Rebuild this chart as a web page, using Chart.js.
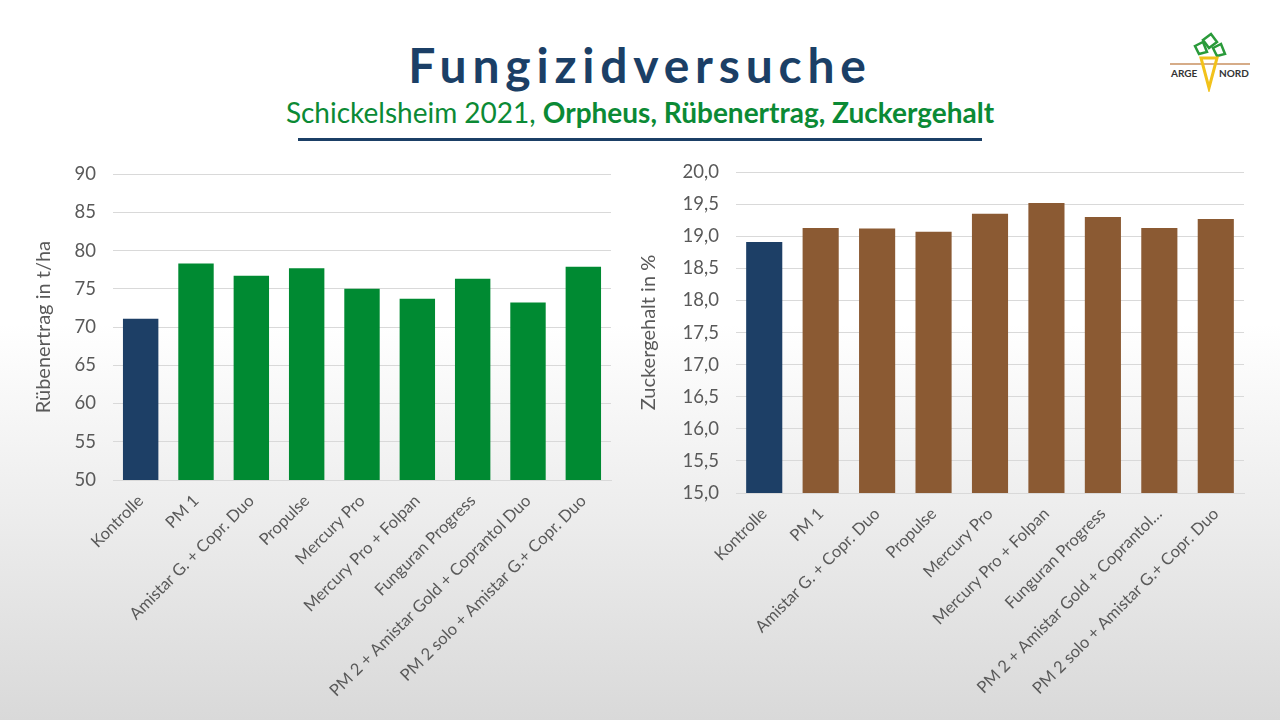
<!DOCTYPE html>
<html>
<head>
<meta charset="utf-8">
<script src="https://cdn.jsdelivr.net/npm/chart.js@4.4.1/dist/chart.umd.min.js"></script>
<style>
  html, body { margin: 0; padding: 0; }
  body {
    width: 1280px; height: 720px; overflow: hidden; position: relative;
    background: linear-gradient(to bottom, #ffffff 0%, #ffffff 45%, #d9d9d9 100%);
    font-family: Lato, "Open Sans", sans-serif;
  }
  #title {
    position: absolute; top: 36px; left: 0; width: 1280px; text-align: center;
    font-size: 48px; font-weight: bold; color: #1b3f66; letter-spacing: 5.8px;
  }
  #subtitle {
    position: absolute; top: 95px; left: 0; width: 1280px; text-align: center;
    font-size: 28px; color: #0b8a35;
  }
  #rule { position: absolute; top: 138px; left: 298px; width: 684px; height: 3px; background: #1b3f66; }
  #logo { position: absolute; left: 1165px; top: 30px; }
  .box { position: absolute; }
</style>
</head>
<body>
<div id="title">Fungizidversuche</div>
<div id="subtitle">Schickelsheim 2021, <b>Orpheus, Rübenertrag, Zuckergehalt</b></div>
<div id="rule"></div>
<svg id="logo" width="90" height="62" viewBox="0 0 90 62">
  <polygon points="38,10 46,4 52,12 44,18" fill="none" stroke="#2a9a3a" stroke-width="2.5"/>
  <polygon points="30,16 38,12 42,22 34,24" fill="none" stroke="#2a9a3a" stroke-width="2.5"/>
  <polygon points="48,18 56,14 60,24 52,26" fill="none" stroke="#2a9a3a" stroke-width="2.5"/>
  <line x1="5" y1="34" x2="85" y2="34" stroke="#c89060" stroke-width="1.5"/>
  <polygon points="36,28 52,28 44,58" fill="none" stroke="#f2c21b" stroke-width="3"/>
  <text x="6" y="47" font-size="10" font-weight="bold" fill="#333" font-family="Lato, sans-serif">ARGE</text>
  <text x="54" y="47" font-size="10" font-weight="bold" fill="#333" font-family="Lato, sans-serif">NORD</text>
</svg>
<div class="box" style="left:28px; top:146px; width:592px; height:559px;"><canvas id="left"></canvas></div>
<div class="box" style="left:633px; top:144px; width:622px; height:561px;"><canvas id="right"></canvas></div>
<script>
const categories = ['Kontrolle', 'PM 1', 'Amistar G. + Copr. Duo', 'Propulse', 'Mercury Pro',
  'Mercury Pro + Folpan', 'Funguran Progress', 'PM 2 + Amistar Gold + Coprantol Duo', 'PM 2 solo + Amistar G.+ Copr. Duo'];
const ruebenertrag = [71.1, 78.3, 76.7, 77.7, 75.0, 73.7, 76.3, 73.2, 77.9];
const zuckergehalt = [18.91, 19.13, 19.12, 19.07, 19.35, 19.52, 19.30, 19.13, 19.27];
const controlColor = '#1d3f66';
const greenColor = '#008a32';
const brownColor = '#8b5a33';

const fontFamily = 'Lato, "Open Sans", sans-serif';
const gray = '#595959';

function makeChart(id, data, color, min, max, step, axisTitle, decimals, cfg) {
  return new Chart(document.getElementById(id), {
    type: 'bar',
    data: {
      labels: categories,
      datasets: [{
        data: data,
        backgroundColor: data.map((v, i) => i === 0 ? controlColor : color),
        barPercentage: 0.64,
        categoryPercentage: 1.0
      }]
    },
    options: {
      responsive: true,
      maintainAspectRatio: false,
      animation: false,
      layout: { padding: { top: 0, right: cfg.right, left: 0, bottom: 0 } },
      plugins: { legend: { display: false }, tooltip: { enabled: false } },
      scales: {
        x: {
          grid: { display: false },
          border: { color: '#d9d9d9' },
          afterFit: s => { s.height = cfg.xHeight; },
          ticks: {
            color: gray, font: { family: fontFamily, size: 16.5 },
            minRotation: 45, maxRotation: 45, autoSkip: false,
            callback: function (v) {
              const s = this.getLabelForValue(v);
              return (cfg.truncate && s.length > 34) ? s.slice(0, 31) + '…' : s;
            }
          }
        },
        y: {
          min: min, max: max,
          afterFit: s => { s.width = cfg.yWidth; },
          grid: { color: '#d9d9d9', drawTicks: false },
          border: { display: false },
          ticks: {
            stepSize: step, color: gray, font: { family: fontFamily, size: 18.5 }, padding: 17,
            callback: v => v.toFixed(decimals).replace('.', ',')
          },
          title: { display: true, text: axisTitle, color: gray, font: { family: fontFamily, size: 20 } }
        }
      }
    }
  });
}

makeChart('left', ruebenertrag, greenColor, 50, 90, 5, 'Rübenertrag in t/ha', 0,
  { right: 9, xHeight: 225, yWidth: 85, truncate: false });
makeChart('right', zuckergehalt, brownColor, 15, 20, 0.5, 'Zuckergehalt in %', 1,
  { right: 11, xHeight: 212, yWidth: 103, truncate: true });
</script>
</body>
</html>
